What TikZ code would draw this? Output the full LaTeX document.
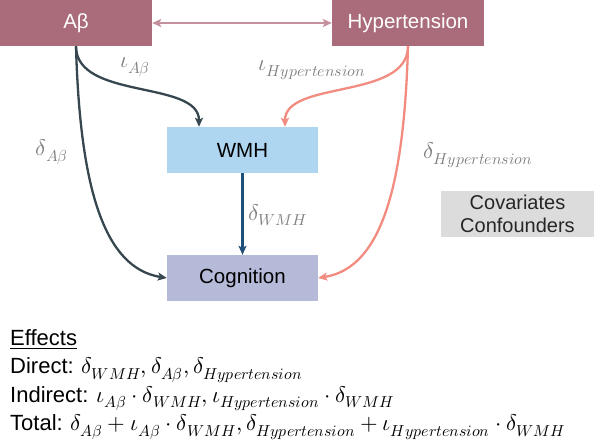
\documentclass[tikz,border=0pt]{standalone}
\usepackage{fontspec}
\usepackage{unicode-math}
\setmainfont{Liberation Sans}
\setmathfont{Latin Modern Math}[Scale=1.03]
\usetikzlibrary{arrows.meta,calc}
\definecolor{boxmauve}{HTML}{AA6C7B}
\definecolor{lightmauve}{HTML}{C4909E}
\definecolor{slate}{HTML}{36474F}
\definecolor{wmhblue}{HTML}{AED6F1}
\definecolor{navy}{HTML}{1F4E79}
\definecolor{cogblue}{HTML}{B4BAD8}
\definecolor{salmon}{HTML}{F28B80}
\definecolor{covgray}{HTML}{DCDCDC}
\definecolor{lblgray}{HTML}{808080}
\tikzset{
  topbox/.style={fill=boxmauve, text=white, minimum width=152pt, minimum height=46pt, inner sep=0pt, font=\fontsize{20.5}{24}\selectfont},
  midbox/.style={minimum width=151pt, minimum height=46pt, inner sep=0pt, text=black, font=\fontsize{20.5}{24}\selectfont},
  covbox/.style={fill=covgray, minimum width=153pt, minimum height=46pt, inner sep=0pt, align=center, text={black!85}, font=\fontsize{20}{24}\selectfont},
  lbl/.style={text=lblgray, inner sep=0pt, font=\fontsize{22}{26}\selectfont},
  effline/.style={anchor=base west, inner sep=0pt, font=\fontsize{22}{28.5}\selectfont},
  tipA/.style={-{Stealth[length=9pt,width=8pt,inset=2pt]}},
  conn/.style={line width=2.3pt},
}
\begin{document}
\begin{tikzpicture}[x=1pt,y=-1pt]
\useasboundingbox (0,0) rectangle (594,441);
\node[topbox] (A) at (76,23) {Aβ};
\node[topbox] (H) at (408,23) {Hypertension};
\node[midbox, fill=wmhblue] (W) at (242.5,150) {WMH};
\node[midbox, fill=cogblue] (C) at (242.5,278) {Cognition};
\node[covbox] (cov) at (517.5,214) {Covariates\\[-1pt]Confounders};

\draw[line width=2pt, lightmauve, {Stealth[length=9pt,width=8pt,inset=2pt]}-{Stealth[length=9pt,width=8pt,inset=2pt]}] (A) -- (H);

\draw[conn, slate, tipA] (A.south) .. controls +(0,54) and +(0,-47) .. ([xshift=-43.5pt]W.north);
\draw[conn, slate, tipA] (A.south) .. controls +(4,144) and +(-62,-10) .. (C.west);
\draw[conn, salmon, tipA] (H.south) .. controls +(0,54) and +(0,-47) .. ([xshift=42.5pt]W.north);
\draw[conn, salmon, tipA] (H.south) .. controls +(-4,144) and +(62,-10) .. (C.east);
\draw[conn, navy, tipA] (W) -- (C);

\node[lbl] (lia) at (135,67) {$\iota_{A\beta}$};
\node[lbl] (lda) at (52,152) {$\delta_{A\beta}$};
\node[lbl] (lih) at (312,70) {$\iota_{Hypertension}$};
\node[lbl] (ldh) at (478,155) {$\delta_{Hypertension}$};
\node[lbl] (ldw) at (278,215) {$\delta_{WMH}$};

\node[effline] (e0) at (10,345) {\underline{Effects}};
\node[effline] (e1) at (10,373.5) {Direct: $\delta_{WMH}, \delta_{A\beta}, \delta_{Hypertension}$};
\node[effline] (e2) at (10,402) {Indirect: $\iota_{A\beta}\cdot\delta_{WMH}, \iota_{Hypertension}\cdot\delta_{WMH}$};
\node[effline] (e3) at (10,430.5) {Total: $\delta_{A\beta}+\iota_{A\beta}\cdot\delta_{WMH}, \delta_{Hypertension}+\iota_{Hypertension}\cdot\delta_{WMH}$};
\end{tikzpicture}
\end{document}
